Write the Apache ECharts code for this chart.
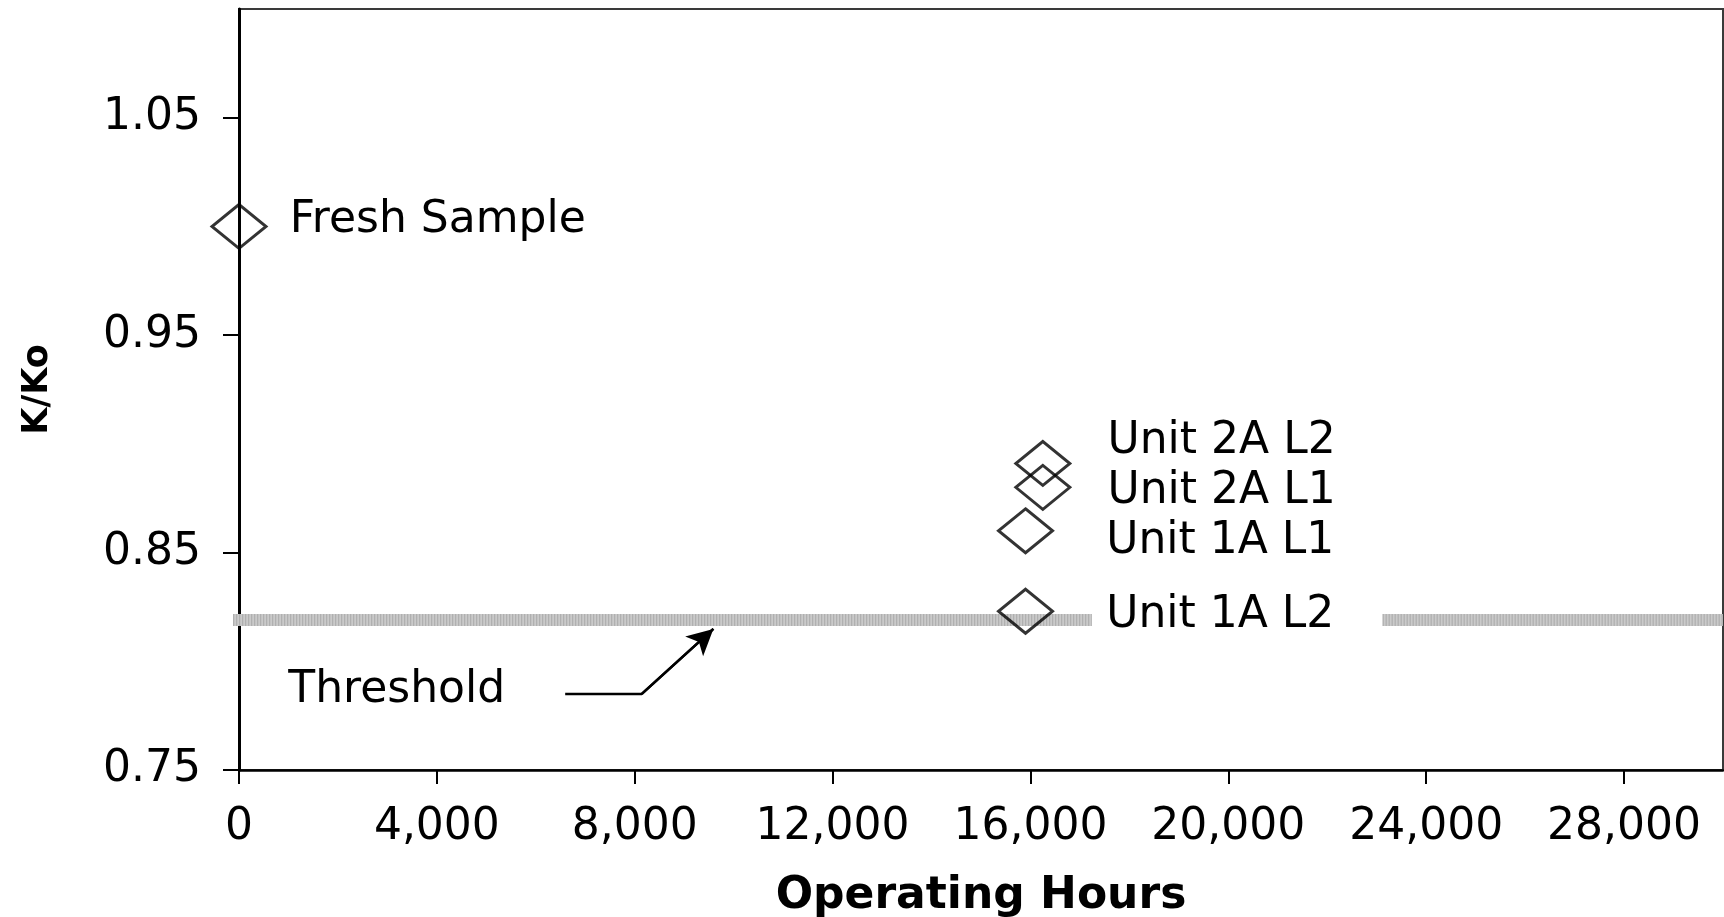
<!DOCTYPE html>
<html>
<head>
<meta charset="utf-8">
<title>K/Ko vs Operating Hours</title>
<script src="https://cdn.jsdelivr.net/npm/echarts@6/dist/echarts.min.js"></script>
<style>
  html, body { margin: 0; padding: 0; background: #ffffff; }
  #chart { width: 1724px; height: 917px; }
</style>
</head>
<body>
<div id="chart"></div>
<script>
// Axis ticks
const xTicks = [0, 4000, 8000, 12000, 16000, 20000, 24000, 28000];
const yTicks = [0.75, 0.85, 0.95, 1.05];

// Measured samples: name, operating hours, K/Ko
const sampleNames = ['Fresh Sample', 'Unit 2A L2', 'Unit 2A L1', 'Unit 1A L1', 'Unit 1A L2'];
const sampleHours = [0, 16250, 16250, 15900, 15900];
const sampleRatio = [1.000, 0.891, 0.880, 0.860, 0.823];

// Threshold level
const thresholdRatio = 0.819;

// ---- layout / styling ----
const FONT = 'DejaVu Sans';
const TXT = 44;
const MARK_W = 54;
const MARK_H = 44;

// where each sample label sits relative to its marker (px: to text start, vertical)
const labelPlacement = {
  'Fresh Sample': [49, -6],
  'Unit 2A L2': [63, -22],
  'Unit 2A L1': [63, 4],
  'Unit 1A L1': [79, 11],
  'Unit 1A L2': [79, 4]
};

// threshold band is broken where the 1A L2 label sits
const thresholdSpans = [[-420, 17240], [23120, 30000]];
// leader from the "Threshold" caption up to the band
const leaderHours = [6594, 8143, 9590];
const leaderRatio = [0.785, 0.785, 0.8149];

const samples = sampleNames.map((n, i) => ({
  name: n,
  value: [sampleHours[i], sampleRatio[i]],
  label: {
    show: true,
    formatter: n,
    position: 'right',
    distance: 0,
    align: 'left',
    verticalAlign: 'middle',
    offset: [labelPlacement[n][0] - MARK_W / 2, labelPlacement[n][1]],
    color: '#000000',
    opacity: 1,
    fontFamily: FONT,
    fontSize: TXT,
    textBorderWidth: 0
  }
}));

const thresholdData = [];
thresholdSpans.forEach((s, k) => {
  if (k > 0) thresholdData.push([(thresholdSpans[k - 1][1] + s[0]) / 2, '-']);
  thresholdData.push([s[0], thresholdRatio], [s[1], thresholdRatio]);
});

function band(color, dash, z) {
  return {
    type: 'line',
    data: thresholdData,
    symbol: 'none',
    clip: false,
    silent: true,
    connectNulls: false,
    z: z,
    lineStyle: { color: color, width: 12, type: dash, cap: 'butt' }
  };
}

const leaderData = leaderHours.map((h, i) => {
  const d = { value: [h, leaderRatio[i]] };
  if (i === 0) {
    d.label = {
      show: true,
      formatter: 'Threshold',
      position: 'left',
      distance: 60,
      offset: [0, -3],
      color: '#000',
      fontFamily: FONT,
      fontSize: TXT
    };
  }
  return d;
});

const chart = echarts.init(document.getElementById('chart'), null, { renderer: 'canvas' });
chart.setOption({
  backgroundColor: '#ffffff',
  animation: false,
  grid: {
    left: 239, right: 1, top: 9, bottom: 147,
    containLabel: false,
    outerBoundsMode: 'none',
    show: true,
    borderColor: '#3a3a3a',
    borderWidth: 2,
    backgroundColor: 'transparent'
  },
  xAxis: {
    type: 'value',
    min: 0, max: 30000, interval: 4000,
    name: 'Operating Hours',
    nameLocation: 'middle',
    nameGap: 105,
    nameTextStyle: { fontFamily: FONT, fontSize: 44, fontWeight: 'bold', color: '#000' },
    axisLine: { show: true, lineStyle: { color: '#000', width: 2.5 } },
    axisTick: { show: true, customValues: xTicks, length: 14, inside: false, lineStyle: { color: '#000', width: 2 } },
    axisLabel: {
      customValues: xTicks,
      margin: 36,
      color: '#000',
      fontFamily: FONT,
      fontSize: TXT,
      formatter: v => Number(v).toLocaleString('en-US')
    },
    splitLine: { show: false }
  },
  yAxis: {
    type: 'value',
    min: 0.75, max: 1.10, interval: 0.1,
    name: 'K/Ko',
    nameLocation: 'middle',
    nameGap: 184,
    nameTextStyle: { fontFamily: FONT, fontSize: 35, fontWeight: 'bold', color: '#000' },
    axisLine: { show: true, lineStyle: { color: '#000', width: 3 } },
    axisTick: { show: true, customValues: yTicks, length: 16, inside: false, lineStyle: { color: '#000', width: 2 } },
    axisLabel: {
      customValues: yTicks,
      margin: 38,
      color: '#000',
      fontFamily: FONT,
      fontSize: TXT,
      formatter: v => Number(v).toFixed(2)
    },
    splitLine: { show: false }
  },
  series: [
    band('#cacaca', 'solid', 2),
    band('#a9a9a9', [1, 2], 3),
    {
      type: 'line',
      data: leaderData,
      symbol: 'circle',
      symbolSize: 0,
      showSymbol: true,
      silent: true,
      z: 4,
      itemStyle: { color: '#000' },
      lineStyle: { color: '#000', width: 2.5 },
      markLine: {
        silent: true,
        symbol: ['none', 'arrow'],
        symbolSize: [20, 26],
        label: { show: false },
        lineStyle: { color: '#000', width: 2.5, type: 'solid' },
        data: [[
          { coord: [leaderHours[1], leaderRatio[1]] },
          { coord: [leaderHours[2], leaderRatio[2]] }
        ]]
      }
    },
    {
      type: 'scatter',
      data: samples,
      symbol: 'diamond',
      symbolSize: [MARK_W, MARK_H],
      z: 5,
      itemStyle: { color: 'rgba(255,255,255,0)', borderColor: '#000', borderWidth: 3 }
    }
  ]
});
</script>
</body>
</html>
